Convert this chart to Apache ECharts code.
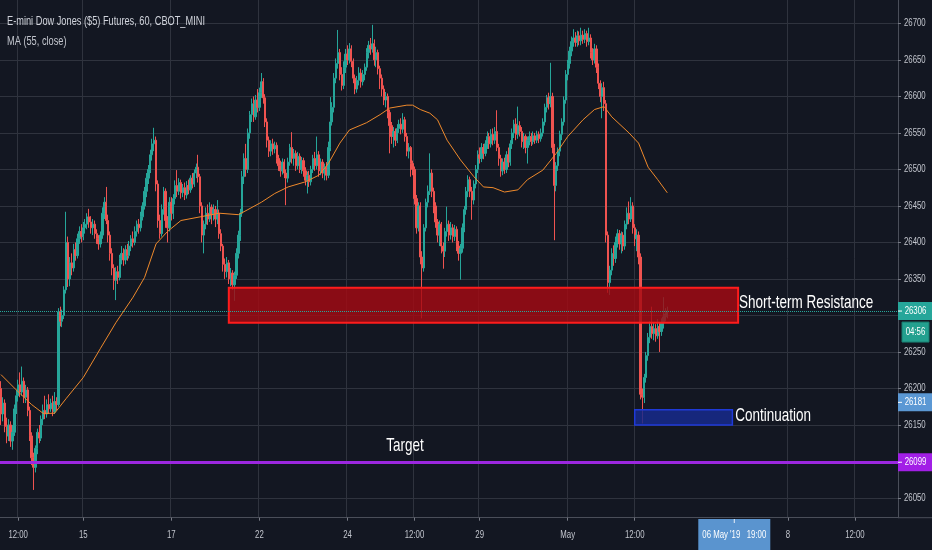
<!DOCTYPE html>
<html><head><meta charset="utf-8">
<script src="https://cdn.jsdelivr.net/npm/echarts@6/dist/echarts.min.js"></script>
<style>html,body{margin:0;padding:0;background:#131722;}#c{width:932px;height:550px;}</style>
</head><body><div id="c"></div>
<script>
const FONT = '"Liberation Sans", Arial, sans-serif';
const SX = 0.71; // horizontal squeeze of all text, as in the reference

// ---- data ----
const categoryCount = 469;                 // hourly slots shown on the time axis (incl. empty future)
const xLabelIndex = [9, 43, 89, 135, 181, 216, 250, 296, 331, 411, 446];
const xLabelText  = ['12:00', '15', '17', '22', '24', '12:00', '29', 'May', '12:00', '8', '12:00'];
const yTicks = [26050, 26100, 26150, 26200, 26250, 26300, 26350, 26400, 26450, 26500, 26550, 26600, 26650, 26700];

// [open, close, low, high]
const ohlc = [
[26200,26165,26150,26210],[26165,26180,26155,26188],[26180,26148,26140,26185],[26148,26135,26125,26160],[26135,26150,26128,26158],
[26150,26128,26120,26155],[26128,26140,26116,26150],[26140,26172,26135,26178],[26172,26190,26165,26198],[26190,26205,26182,26212],
[26205,26195,26188,26222],[26195,26210,26190,26230],[26210,26188,26180,26215],[26188,26198,26180,26205],[26198,26170,26162,26202],
[26170,26135,26128,26175],[26135,26105,26095,26140],[26105,26092,26061,26112],[26092,26118,26085,26122],[26118,26140,26110,26145],
[26140,26132,26125,26150],[26132,26158,26128,26163],[26158,26170,26150,26178],[26170,26165,26158,26190],[26165,26178,26160,26185],
[26178,26172,26165,26192],[26172,26180,26168,26186],[26180,26168,26162,26190],[26168,26182,26165,26195],[26182,26178,26170,26188],
[26178,26305,26175,26310],[26305,26292,26285,26312],[26292,26300,26284,26308],[26300,26335,26295,26340],[26335,26400,26330,26442],
[26400,26350,26339,26408],[26350,26372,26340,26380],[26372,26365,26355,26385],[26365,26390,26360,26398],[26390,26382,26375,26400],
[26382,26405,26378,26412],[26405,26415,26398,26422],[26415,26408,26400,26425],[26408,26420,26403,26428],[26420,26425,26412,26432],
[26425,26435,26418,26440],[26435,26428,26420,26446],[26428,26420,26412,26436],[26420,26425,26410,26432],[26425,26412,26405,26430],
[26412,26405,26398,26418],[26405,26398,26390,26410],[26398,26410,26393,26415],[26410,26440,26405,26448],[26440,26455,26432,26462],
[26455,26430,26425,26476],[26430,26410,26400,26438],[26410,26385,26375,26415],[26385,26365,26355,26392],[26365,26348,26335,26370],
[26348,26360,26321,26366],[26360,26352,26343,26368],[26352,26378,26348,26383],[26378,26385,26370,26395],[26385,26376,26368,26392],
[26376,26390,26370,26396],[26390,26382,26375,26398],[26382,26395,26378,26402],[26395,26405,26388,26410],[26405,26400,26393,26415],
[26400,26415,26396,26422],[26415,26425,26408,26430],[26425,26420,26412,26432],[26420,26435,26415,26442],[26435,26450,26430,26455],
[26450,26470,26445,26476],[26470,26488,26462,26495],[26488,26500,26480,26506],[26500,26520,26495,26527],[26520,26535,26512,26542],
[26535,26540,26525,26557],[26540,26480,26470,26545],[26480,26430,26420,26485],[26430,26412,26405,26438],[26412,26445,26408,26452],
[26445,26470,26438,26476],[26470,26430,26420,26474],[26430,26420,26400,26436],[26420,26455,26415,26462],[26455,26440,26430,26462],
[26440,26460,26432,26466],[26460,26478,26452,26485],[26478,26470,26462,26499],[26470,26482,26465,26488],[26482,26468,26460,26486],
[26468,26475,26462,26480],[26475,26465,26458,26482],[26465,26478,26460,26484],[26478,26472,26466,26486],[26472,26488,26468,26492],
[26488,26480,26474,26495],[26480,26495,26476,26500],[26495,26503,26488,26508],[26503,26490,26482,26520],[26490,26450,26440,26494],
[26450,26410,26400,26455],[26410,26425,26385,26430],[26425,26440,26418,26448],[26440,26432,26424,26452],[26432,26448,26428,26455],
[26448,26438,26425,26452],[26438,26445,26430,26452],[26445,26432,26421,26450],[26432,26440,26425,26458],[26440,26412,26405,26445],
[26412,26395,26388,26418],[26395,26370,26360,26398],[26370,26360,26350,26378],[26360,26372,26352,26380],[26372,26350,26343,26376],
[26350,26358,26340,26365],[26358,26342,26335,26362],[26342,26355,26320,26360],[26355,26385,26350,26392],[26385,26410,26378,26416],
[26410,26440,26402,26446],[26440,26490,26435,26498],[26490,26515,26480,26522],[26515,26500,26490,26535],[26500,26550,26495,26556],
[26550,26575,26542,26580],[26575,26590,26565,26597],[26590,26572,26565,26600],[26572,26595,26568,26602],[26595,26585,26578,26610],
[26585,26605,26580,26612],[26605,26620,26598,26632],[26620,26598,26590,26625],[26598,26565,26558,26603],[26565,26540,26530,26570],
[26540,26525,26517,26545],[26525,26535,26518,26540],[26535,26528,26520,26542],[26528,26533,26522,26538],[26533,26515,26508,26537],
[26515,26505,26498,26520],[26505,26498,26490,26512],[26498,26510,26493,26515],[26510,26495,26488,26514],[26495,26488,26451,26500],
[26488,26510,26482,26516],[26510,26530,26505,26535],[26530,26515,26508,26551],[26515,26522,26505,26528],[26522,26505,26498,26526],
[26505,26518,26500,26524],[26518,26500,26495,26522],[26500,26512,26494,26517],[26512,26498,26490,26516],[26498,26485,26478,26503],
[26485,26492,26467,26497],[26492,26483,26476,26498],[26483,26500,26478,26505],[26500,26515,26495,26520],[26515,26505,26498,26524],
[26505,26520,26500,26545],[26520,26498,26490,26525],[26498,26510,26492,26515],[26510,26495,26488,26514],[26495,26503,26485,26508],
[26503,26492,26485,26510],[26492,26530,26488,26538],[26530,26565,26525,26599],[26565,26585,26560,26592],[26585,26625,26578,26632],
[26625,26645,26618,26652],[26645,26660,26638,26691],[26660,26630,26622,26665],[26630,26615,26608,26640],[26615,26640,26610,26648],
[26640,26658,26632,26665],[26658,26650,26643,26670],[26650,26665,26645,26673],[26665,26648,26640,26670],[26648,26625,26618,26652],
[26625,26610,26603,26630],[26610,26622,26605,26628],[26622,26632,26615,26640],[26632,26620,26612,26638],[26620,26630,26615,26636],
[26630,26640,26622,26645],[26640,26660,26635,26666],[26660,26670,26652,26676],[26670,26665,26657,26680],[26665,26672,26660,26698],
[26672,26650,26642,26678],[26650,26660,26640,26668],[26660,26638,26630,26664],[26638,26625,26610,26642],[26625,26610,26600,26630],
[26610,26595,26588,26615],[26595,26600,26585,26606],[26600,26578,26570,26604],[26578,26560,26522,26582],[26560,26545,26535,26565],
[26545,26552,26530,26558],[26552,26540,26532,26556],[26540,26556,26536,26562],[26556,26562,26550,26568],[26562,26555,26548,26570],
[26555,26568,26550,26577],[26568,26545,26538,26572],[26545,26525,26518,26550],[26525,26530,26515,26536],[26530,26508,26490,26532],
[26508,26500,26492,26512],[26500,26460,26452,26504],[26460,26420,26412,26465],[26420,26450,26415,26455],[26450,26380,26370,26455],
[26380,26365,26296,26388],[26365,26420,26360,26425],[26420,26455,26415,26460],[26455,26470,26448,26478],[26470,26495,26465,26522],
[26495,26470,26462,26500],[26470,26450,26440,26475],[26450,26428,26420,26455],[26428,26410,26400,26432],[26410,26425,26395,26430],
[26425,26395,26385,26428],[26395,26388,26364,26400],[26388,26415,26380,26420],[26415,26425,26408,26449],[26425,26410,26402,26430],
[26410,26420,26404,26428],[26420,26408,26400,26425],[26408,26418,26402,26424],[26418,26395,26388,26422],[26395,26385,26375,26402],
[26385,26392,26349,26398],[26392,26420,26386,26426],[26420,26445,26414,26450],[26445,26470,26438,26476],[26470,26486,26462,26492],
[26486,26470,26462,26490],[26470,26458,26431,26476],[26458,26480,26452,26485],[26480,26500,26474,26506],[26500,26520,26495,26526],
[26520,26515,26508,26530],[26515,26530,26510,26536],[26530,26522,26514,26535],[26522,26535,26518,26540],[26535,26545,26528,26552],
[26545,26535,26528,26550],[26535,26548,26530,26555],[26548,26540,26533,26556],[26540,26552,26535,26558],[26552,26530,26525,26581],
[26530,26515,26505,26535],[26515,26498,26490,26520],[26498,26510,26492,26515],[26510,26500,26494,26516],[26500,26520,26495,26525],
[26520,26510,26503,26530],[26510,26535,26505,26540],[26535,26550,26528,26556],[26550,26562,26543,26568],[26562,26548,26540,26570],
[26548,26560,26542,26586],[26560,26552,26545,26566],[26552,26538,26530,26558],[26538,26545,26528,26550],[26545,26530,26522,26548],
[26530,26540,26508,26545],[26540,26545,26533,26552],[26545,26538,26532,26550],[26538,26546,26534,26552],[26546,26540,26535,26550],
[26540,26548,26536,26553],[26548,26542,26536,26552],[26542,26550,26538,26556],[26550,26565,26545,26570],[26565,26585,26560,26590],
[26585,26598,26578,26602],[26598,26590,26582,26605],[26590,26600,26585,26646],[26600,26530,26522,26605],[26530,26478,26403,26535],
[26478,26505,26470,26510],[26505,26525,26498,26530],[26525,26548,26518,26553],[26548,26565,26540,26570],[26565,26595,26560,26600],
[26595,26630,26590,26636],[26630,26645,26622,26650],[26645,26662,26638,26668],[26662,26675,26655,26682],[26675,26680,26668,26692],
[26680,26674,26668,26688],[26674,26683,26668,26690],[26683,26676,26670,26689],[26676,26684,26670,26694],[26684,26678,26672,26690],
[26678,26686,26673,26692],[26686,26675,26668,26690],[26675,26680,26670,26694],[26680,26660,26652,26685],[26660,26650,26643,26666],
[26650,26665,26645,26672],[26665,26640,26632,26670],[26640,26618,26610,26645],[26618,26600,26592,26622],[26600,26612,26570,26618],
[26612,26590,26580,26620],[26590,26410,26400,26595],[26410,26345,26331,26415],[26345,26362,26328,26368],[26362,26385,26355,26392],
[26385,26378,26368,26396],[26378,26400,26372,26408],[26400,26412,26393,26418],[26412,26398,26390,26417],[26398,26410,26385,26415],
[26410,26395,26388,26414],[26395,26425,26390,26430],[26425,26440,26418,26448],[26440,26432,26425,26456],[26432,26450,26428,26462],
[26450,26420,26412,26455],[26420,26405,26395,26425],[26405,26410,26388,26418],[26410,26380,26370,26415],[26380,26192,26185,26385],
[26192,26188,26152,26200],[26188,26215,26180,26220],[26215,26245,26208,26250],[26245,26270,26238,26276],[26270,26285,26262,26292],
[26285,26275,26268,26312],[26275,26282,26266,26290],[26282,26272,26264,26288],[26272,26285,26268,26295],[26285,26278,26250,26290],
[26278,26290,26272,26296],[26290,26298,26282,26325],[26298,26302,26292,26310],[26302,26306,26296,26312]
];

// MA(55, close): [bar index, value]
const maPoints = [
[0,26219],[8,26198],[16,26178],[22,26166],[28,26166],[34,26186],[43,26215],[52,26255],[60,26290],[69,26325],
[75,26352],[81,26398],[87,26415],[94,26430],[104,26435],[114,26440],[124,26438],[129,26445],[136,26455],[143,26467],
[150,26476],[159,26483],[166,26492],[171,26508],[177,26536],[182,26554],[191,26564],[198,26575],[203,26584],[212,26588],
[215,26588],[219,26582],[224,26577],[228,26568],[233,26540],[240,26513],[247,26490],[252,26476],[257,26475],[263,26469],
[270,26472],[275,26486],[283,26499],[290,26522],[296,26545],[304,26568],[310,26582],[315,26586],[319,26572],[328,26550],
[333,26536],[338,26503],[343,26486],[348,26468]
];

const lastPrice = 26306;
const markerPrice = 26181;
const targetPrice = 26099;
const countdownText = '04:56';
const crosshairIndex = 383;
const crosshairText = "06 May '19   19:00";
// zones: [startIndex, endIndex, lowPrice, highPrice]
const resistanceZone = [119, 385, 26290, 26338];
const continuationZone = [331, 382, 26150, 26171];
// annotations: [text, index, price]
const notes = [['Short-term Resistance', 385, 26317], ['Continuation', 383, 26163], ['Target', 211, 26121]];
const titleText = 'E-mini Dow Jones ($5) Futures, 60, CBOT_MINI';
const maTitle = 'MA (55, close)';

// ---- chart ----
const categories = [];
for (let i = 0; i < categoryCount; i++) categories.push(String(i));
const labelMap = {};
xLabelIndex.forEach((k, j) => labelMap[k] = xLabelText[j]);
const isLabel = (idx) => labelMap[idx] !== undefined;

const GRID = '#2f333e';
const AXIS = '#4a4e59';
const chart = echarts.init(document.getElementById('c'), null, {renderer: 'canvas'});
chart.setOption({
  backgroundColor: '#131722',
  animation: false,
  grid: {left: 0, right: 34, top: 0, bottom: 32.3, containLabel: false, outerBoundsMode: 'none'},
  xAxis: {
    type: 'category', data: categories, boundaryGap: true,
    axisLine: {show: true, lineStyle: {color: AXIS, width: 1}},
    axisTick: {show: true, interval: (i) => isLabel(i), length: 3, alignWithLabel: true, lineStyle: {color: '#787b86'}},
    axisLabel: {show: false},
    splitLine: {show: true, interval: (i) => isLabel(i), lineStyle: {color: GRID, width: 1}}
  },
  yAxis: {
    type: 'value', position: 'right', min: 26023, max: 26732, scale: true,
    axisLine: {show: true, lineStyle: {color: AXIS}},
    axisTick: {show: true, customValues: yTicks, length: 3, lineStyle: {color: '#787b86'}},
    axisLabel: {show: false},
    splitLine: {show: true, lineStyle: {color: GRID, width: 1}}
  },
  series: [
    {
      type: 'candlestick', data: ohlc, barWidth: 1.8, z: 2,
      itemStyle: {color: '#26a69a', color0: '#ef5350', borderColor: '#26a69a', borderColor0: '#ef5350', borderWidth: 1},
      markLine: {
        silent: true, symbol: 'none', z: 5, label: {show: false},
        data: [
          {yAxis: lastPrice, lineStyle: {color: '#26a69a', type: 'dotted', width: 1}},
          {yAxis: targetPrice, lineStyle: {color: '#9c27e0', type: 'solid', width: 3}}
        ]
      }
    },
    {
      type: 'line', data: maPoints, showSymbol: false, symbol: 'none', z: 3, connectNulls: true,
      lineStyle: {color: '#ef8a2c', width: 1},
      markArea: {
        silent: true, z: 4,
        data: [
          [{coord: [resistanceZone[0], resistanceZone[3]], itemStyle: {color: 'rgba(165,10,18,0.82)', borderColor: '#ff1c1c', borderWidth: 2}},
           {coord: [resistanceZone[1], resistanceZone[2]]}],
          [{coord: [continuationZone[0], continuationZone[3]], itemStyle: {color: 'rgba(24,42,140,0.85)', borderColor: '#1f3ad8', borderWidth: 1.5}},
           {coord: [continuationZone[1], continuationZone[2]]}]
        ]
      }
    }
  ]
});

function px(idx, price) { return chart.convertToPixel({xAxisIndex: 0, yAxisIndex: 0}, [idx, price]); }
const g = [];
function txt(text, x, y, size, fill, align, z, weight) {
  g.push({type: 'text', x: x, y: y, scaleX: SX, z: z || 100,
    style: {text: text, fill: fill, font: (weight || 'normal') + ' ' + size + 'px ' + FONT, align: align || 'left', verticalAlign: 'middle'}});
}
// y-axis labels from the scale
yTicks.forEach(v => txt(String(v), 904, px(0, v)[1], 11, '#c3c6ce', 'left', 60));
// x-axis labels from the scale
xLabelIndex.forEach((k, j) => txt(xLabelText[j], px(k, lastPrice)[0], 535, 11, '#c3c6ce', 'center', 60));

function priceBox(price, text, bg) {
  const y = px(0, price)[1];
  g.push({type: 'rect', shape: {x: 898, y: y - 9, width: 34, height: 18}, style: {fill: bg}, z: 100});
  g.push({type: 'line', shape: {x1: 898, y1: y, x2: 902, y2: y}, style: {stroke: '#ffffff', lineWidth: 1}, z: 101});
  txt(text, 915.5, y, 11, '#ffffff', 'center', 101);
  return y;
}
const yLast = priceBox(lastPrice, String(lastPrice), '#26a69a');
g.push({type: 'rect', shape: {x: 902, y: yLast + 11, width: 27, height: 20}, style: {fill: '#23a08f', stroke: '#1b7d70', lineWidth: 1}, z: 100});
txt(countdownText, 915.5, yLast + 21, 11, '#ffffff', 'center', 101);
priceBox(markerPrice, String(markerPrice), '#5b98d4');
priceBox(targetPrice, String(targetPrice), '#a21fe6');

notes.forEach(([t, idx, price]) => {
  const p = px(idx, price);
  const isTarget = t === 'Target';
  txt(t, isTarget ? p[0] : p[0] + 1, p[1], 19, '#ffffff', isTarget ? 'center' : 'left', 90);
});

const xCross = px(crosshairIndex, lastPrice)[0];
g.push({type: 'rect', shape: {x: xCross - 36, y: 519, width: 72, height: 31}, style: {fill: '#5a94cf'}, z: 100});
g.push({type: 'line', shape: {x1: xCross, y1: 519, x2: xCross, y2: 523}, style: {stroke: '#e8eef8', lineWidth: 1}, z: 101});
txt(crosshairText, xCross, 535, 11, '#ffffff', 'center', 101);
g.push({type: 'line', shape: {x1: 898, y1: 517.7, x2: 932, y2: 517.7}, style: {stroke: AXIS, lineWidth: 1}, z: 50});

txt(titleText, 7, 21, 13, '#d1d4dc', 'left', 100);
txt(maTitle, 7, 41, 13, '#c3c6ce', 'left', 100);

chart.setOption({graphic: g});
</script></body></html>
